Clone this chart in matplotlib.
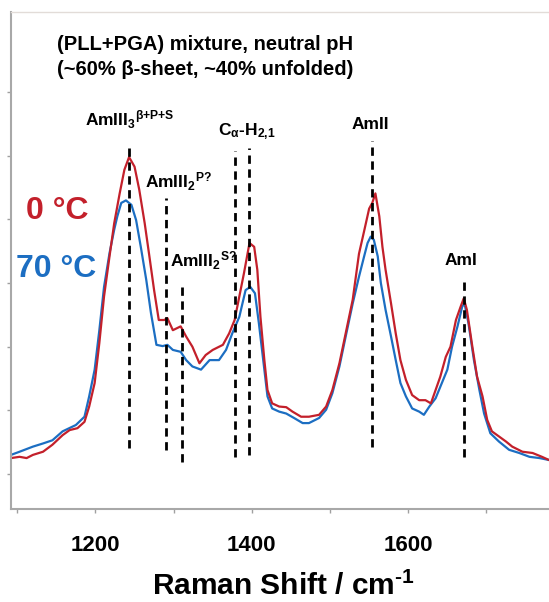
import matplotlib
matplotlib.use("Agg")
import matplotlib.pyplot as plt

plt.rcParams['font.family'] = ['Liberation Sans', 'DejaVu Sans']
plt.rcParams['font.weight'] = 'bold'
plt.rcParams['mathtext.fontset'] = 'custom'
plt.rcParams['mathtext.rm'] = 'Liberation Sans:bold'
plt.rcParams['mathtext.it'] = 'Liberation Sans:bold'
plt.rcParams['mathtext.bf'] = 'Liberation Sans:bold'
plt.rcParams['mathtext.sf'] = 'Liberation Sans:bold'

# Raman spectrum at 0 C (red), wavenumber / intensity (arb. units)
shift_0c = [1092, 1103, 1112, 1120, 1133, 1145, 1158, 1167, 1177, 1186,
            1192, 1199, 1205, 1211, 1218, 1224, 1231, 1237, 1243, 1250,
            1256, 1263, 1269, 1275, 1281, 1288, 1292, 1299, 1309, 1316,
            1324, 1333, 1341, 1350, 1363, 1371, 1378, 1384, 1390, 1397,
            1403, 1407, 1411, 1416, 1420, 1426, 1435, 1444, 1452, 1463,
            1473, 1486, 1495, 1503, 1512, 1520, 1529, 1537, 1544, 1550,
            1554, 1558, 1563, 1567, 1571, 1578, 1584, 1590, 1597, 1605,
            1614, 1622, 1629, 1635, 1641, 1648, 1654, 1661, 1667, 1671,
            1675, 1682, 1688, 1695, 1701, 1707, 1716, 1725, 1733, 1746,
            1759, 1771, 1780]
int_0c = [0.25, 0.27, 0.25, 0.30, 0.35, 0.46, 0.61, 0.69, 0.72, 0.82,
          1.06, 1.43, 2.06, 2.79, 3.42, 3.94, 4.41, 4.78, 4.98, 4.83,
          4.47, 3.94, 3.42, 2.89, 2.42, 2.42, 2.45, 2.26, 2.32, 2.16,
          2.00, 1.74, 1.87, 1.95, 2.03, 2.21, 2.42, 2.79, 3.16, 3.63,
          3.57, 3.21, 2.47, 1.79, 1.32, 1.11, 1.06, 1.05, 0.98, 0.90,
          0.90, 0.93, 1.06, 1.32, 1.74, 2.21, 2.74, 3.46, 3.84, 4.17,
          4.26, 4.41, 4.05, 3.57, 3.21, 2.68, 2.21, 1.79, 1.48, 1.24,
          1.16, 1.16, 1.11, 1.32, 1.53, 1.84, 2.00, 2.42, 2.63, 2.76,
          2.58, 2.00, 1.53, 1.22, 0.85, 0.67, 0.59, 0.51, 0.43, 0.35,
          0.33, 0.27, 0.22]

# Raman spectrum at 70 C (blue)
shift_70c = [1092, 1103, 1120, 1133, 1145, 1158, 1175, 1186, 1192, 1199,
             1205, 1211, 1218, 1224, 1228, 1233, 1239, 1246, 1252, 1258,
             1265, 1271, 1278, 1286, 1292, 1299, 1309, 1316, 1324, 1335,
             1346, 1358, 1367, 1375, 1384, 1392, 1398, 1404, 1409, 1416,
             1420, 1426, 1435, 1444, 1454, 1465, 1473, 1486, 1495, 1503,
             1512, 1520, 1529, 1537, 1544, 1548, 1552, 1556, 1561, 1565,
             1571, 1578, 1584, 1590, 1597, 1605, 1614, 1620, 1627, 1635,
             1643, 1650, 1656, 1663, 1669, 1672, 1677, 1684, 1691, 1697,
             1705, 1716, 1729, 1742, 1755, 1768, 1780]
int_70c = [0.30, 0.35, 0.43, 0.48, 0.53, 0.67, 0.77, 0.90, 1.22, 1.64,
           2.26, 2.94, 3.47, 3.84, 4.05, 4.26, 4.30, 4.23, 3.99, 3.57,
           3.05, 2.53, 2.03, 2.01, 2.03, 1.95, 1.92, 1.79, 1.69, 1.64,
           1.79, 1.79, 1.95, 2.21, 2.47, 2.89, 2.94, 2.84, 2.37, 1.64,
           1.22, 1.03, 0.98, 0.95, 0.88, 0.80, 0.80, 0.88, 1.01, 1.27,
           1.69, 2.16, 2.68, 3.10, 3.44, 3.63, 3.73, 3.68, 3.42, 3.00,
           2.58, 2.16, 1.79, 1.43, 1.22, 1.03, 0.98, 0.93, 1.06, 1.19,
           1.43, 1.64, 2.00, 2.32, 2.63, 2.68, 2.37, 1.79, 1.32, 0.95,
           0.64, 0.51, 0.38, 0.33, 0.27, 0.25, 0.22]

# band markers: position, dashed line bottom/top
band_pos = [1243, 1290, 1311, 1378, 1396, 1554, 1671]
band_low = [0.41, 0.38, 0.19, 0.27, 0.30, 0.42, 0.27]
band_high = [5.20, 4.34, 3.00, 5.08, 5.13, 5.24, 3.08]

band_names = [r'AmIII$_3$$^{\beta{+}P{+}S}$', r'AmIII$_2$$^{P?}$', r'AmIII$_2$$^{S?}$',
              r'C$_{\alpha}$-H$_{2{,}1}$', 'AmII', 'AmI']
name_x = [1187, 1263, 1295, 1357, 1528, 1647]
name_y = [5.47, 4.50, 3.25, 5.33, 5.42, 3.29]

x_ticks = [1100, 1200, 1300, 1400, 1500, 1600, 1700]
x_labels = ['', '1200', '', '1400', '', '1600', '']

red = '#c3202b'
blue = '#1c6ec2'

fig = plt.figure(figsize=(5.49, 6.02), dpi=100)
ax = fig.add_axes([0.020, 0.1545, 0.98, 0.8255])

ax.plot(shift_70c, int_70c, color=blue, lw=1.6)
ax.plot(shift_0c, int_0c, color=red, lw=1.6)

for p, lo, hi in zip(band_pos, band_low, band_high):
    ax.plot([p, p], [lo, hi], color='black', lw=2, linestyle=(0, (3, 2)))

for name, tx, ty in zip(band_names, name_x, name_y):
    ax.text(tx, ty, name, fontsize=12.5, fontweight='bold', ha='left', va='baseline')

ax.text(1151, 6.75, '(PLL+PGA) mixture, neutral pH', fontsize=14.5,
        fontweight='bold', ha='left', va='center')
ax.text(1151, 6.35, '(~60% β-sheet, ~40% unfolded)', fontsize=14.5,
        fontweight='bold', ha='left', va='center')
ax.text(1111, 4.0, '0 °C', color=red, fontsize=23, fontweight='bold',
        ha='left', va='baseline')
ax.text(1098, 3.10, '70 °C', color=blue, fontsize=23, fontweight='bold',
        ha='left', va='baseline')

ax.set_xlim(1092, 1780)
ax.set_ylim(-0.55, 7.26)
ax.set_xticks(x_ticks)
ax.set_xticklabels(x_labels, fontsize=16, fontweight='bold')
ax.set_yticks(range(0, 7))
ax.set_yticklabels([])
ax.tick_params(axis='both', direction='out', length=3, width=1, color='#a0a0a0')
ax.tick_params(axis='x', pad=16)
ax.spines['right'].set_visible(False)
ax.spines['top'].set_color('#e2dcd8')
ax.spines['top'].set_linewidth(1)
for s in ['left', 'bottom']:
    ax.spines[s].set_color('#a8a8a8')
    ax.spines[s].set_linewidth(1.5)

fig.text(283 / 549, 0.011, 'Raman Shift / cm$^{‐1}$', fontsize=21.5,
         fontweight='bold', ha='center', va='baseline')

fig.savefig('out.png', dpi=100)
